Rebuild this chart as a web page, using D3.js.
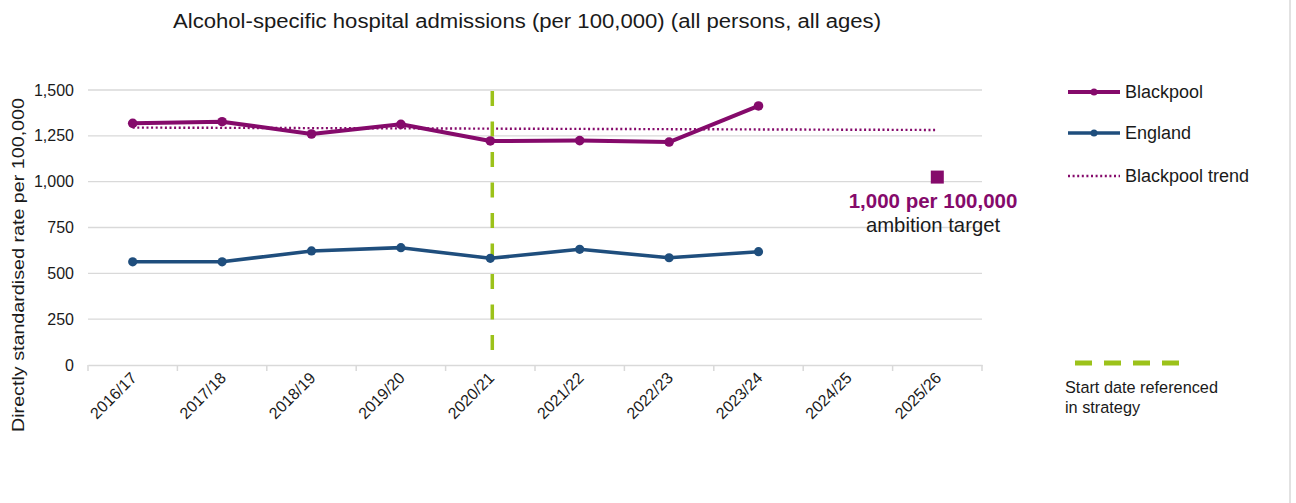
<!DOCTYPE html>
<html>
<head>
<meta charset="utf-8">
<script src="https://cdn.jsdelivr.net/npm/d3@7"></script>
<style>
  html, body { margin: 0; padding: 0; background: #fff; }
  svg { display: block; font-family: "Liberation Sans", Arial, sans-serif; }
</style>
</head>
<body>
<svg id="chart" width="1296" height="503"></svg>
<script>
const categories = ["2016/17","2017/18","2018/19","2019/20","2020/21","2021/22","2022/23","2023/24","2024/25","2025/26"];
const blackpool = [1318, 1327, 1260, 1313, 1222, 1224, 1216, 1413];
const england = [563, 563, 622, 640, 582, 631, 585, 618];
const trendCategories = ["2016/17", "2025/26"];
const trendValues = [1295, 1282];
const targetCategory = "2025/26";
const targetValue = 1025;
const startCategory = "2020/21";
const yTicks = [0, 250, 500, 750, 1000, 1250, 1500];

const purple = "#850a6b", blue = "#1f4e7d", green = "#9cc21a", grid = "#d9d9d9";
const svg = d3.select("#chart");
const x = d3.scaleBand().domain(categories).range([88, 982]);
const xc = c => x(c) + x.bandwidth() / 2;
const y = d3.scaleLinear().domain([0, 1500]).range([365, 90]);

// right frame edge
svg.append("line").attr("x1", 1290).attr("x2", 1290).attr("y1", 0).attr("y2", 503)
  .attr("stroke", grid).attr("stroke-width", 1.5);

// title
svg.append("text").attr("x", 527).attr("y", 28).attr("text-anchor", "middle")
  .attr("font-size", 20).attr("fill", "#1a1a1a")
  .attr("textLength", 708).attr("lengthAdjust", "spacingAndGlyphs")
  .text("Alcohol-specific hospital admissions (per 100,000) (all persons, all ages)");

// gridlines
svg.append("g").selectAll("line").data(yTicks.filter(d => d > 0)).join("line")
  .attr("x1", 88).attr("x2", 982).attr("y1", d => y(d)).attr("y2", d => y(d))
  .attr("stroke", grid).attr("stroke-width", 1.3);

// y axis
const yAxis = svg.append("g").attr("transform", "translate(88,0)")
  .call(d3.axisLeft(y).tickValues(yTicks).tickFormat(d3.format(",")).tickSize(0).tickPadding(14));
yAxis.select(".domain").remove();
yAxis.selectAll("text").attr("font-size", 16).attr("fill", "#1a1a1a").attr("font-family", "Liberation Sans, Arial, sans-serif");

// x axis
const xAxis = svg.append("g").attr("transform", "translate(0,365)")
  .call(d3.axisBottom(x).tickSize(0));
xAxis.select(".domain").attr("stroke", grid).attr("stroke-width", 1.5);
xAxis.selectAll(".tick text").remove();
svg.append("g").selectAll("line").data(categories.concat(["__end"])).join("line")
  .attr("x1", (d, i) => 88 + i * x.bandwidth()).attr("x2", (d, i) => 88 + i * x.bandwidth())
  .attr("y1", 365).attr("y2", 371).attr("stroke", grid).attr("stroke-width", 1.5);
svg.append("g").selectAll("text").data(categories).join("text")
  .attr("transform", d => `translate(${xc(d) + 5},${379}) rotate(-45)`)
  .attr("text-anchor", "end").attr("font-size", 16).attr("fill", "#1a1a1a")
  .text(d => d);

// y title
svg.append("text").attr("transform", "translate(24,265) rotate(-90)")
  .attr("text-anchor", "middle").attr("font-size", 17).attr("fill", "#1a1a1a")
  .attr("textLength", 334).attr("lengthAdjust", "spacingAndGlyphs")
  .text("Directly standardised rate per 100,000");

// trend
svg.append("path").datum(trendCategories.map((c, i) => [xc(c), y(trendValues[i])]))
  .attr("d", d3.line()).attr("fill", "none").attr("stroke", purple)
  .attr("stroke-width", 2.4).attr("stroke-dasharray", "2,2.6");

// start line
svg.append("line").attr("x1", xc(startCategory) + 2).attr("x2", xc(startCategory) + 2)
  .attr("y1", 91).attr("y2", 350).attr("stroke", green).attr("stroke-width", 3.5)
  .attr("stroke-dasharray", "15,15.5");

// series
function series(vals, color, w, r) {
  const pts = vals.map((v, i) => [xc(categories[i]), y(v)]);
  svg.append("path").datum(pts).attr("d", d3.line()).attr("fill", "none")
    .attr("stroke", color).attr("stroke-width", w).attr("stroke-linejoin", "round");
  svg.append("g").selectAll("circle").data(pts).join("circle")
    .attr("cx", d => d[0]).attr("cy", d => d[1]).attr("r", r).attr("fill", color);
}
series(england, blue, 3.6, 4.6);
series(blackpool, purple, 4, 4.8);

// target marker
svg.append("rect").attr("x", xc(targetCategory) - 6.5).attr("y", y(targetValue) - 6.5)
  .attr("width", 13).attr("height", 13).attr("fill", purple);
svg.append("text").attr("x", 933).attr("y", 208).attr("text-anchor", "middle")
  .attr("font-size", 20.5).attr("font-weight", "bold").attr("fill", purple)
  .text("1,000 per 100,000");
svg.append("text").attr("x", 933).attr("y", 232).attr("text-anchor", "middle")
  .attr("font-size", 20.3).attr("fill", "#1a1a1a")
  .text("ambition target");

// legend
const leg = svg.append("g");
const legItems = [
  {label: "Blackpool", color: purple, y: 92, w: 4, dash: null, marker: true},
  {label: "England", color: blue, y: 133, w: 3.6, dash: null, marker: true},
  {label: "Blackpool trend", color: purple, y: 176, w: 2.4, dash: "2,2.6", marker: false}
];
legItems.forEach(it => {
  leg.append("line").attr("x1", 1068).attr("x2", 1120).attr("y1", it.y).attr("y2", it.y)
    .attr("stroke", it.color).attr("stroke-width", it.w).attr("stroke-dasharray", it.dash);
  if (it.marker) leg.append("circle").attr("cx", 1094).attr("cy", it.y).attr("r", 3.5).attr("fill", it.color);
  leg.append("text").attr("x", 1125).attr("y", it.y + 6).attr("font-size", 18).attr("fill", "#1a1a1a").text(it.label);
});
leg.append("line").attr("x1", 1075).attr("x2", 1180).attr("y1", 363).attr("y2", 363)
  .attr("stroke", green).attr("stroke-width", 5).attr("stroke-dasharray", "17,12");
leg.append("text").attr("x", 1065).attr("y", 393).attr("font-size", 16.3).attr("fill", "#1a1a1a").text("Start date referenced");
leg.append("text").attr("x", 1065).attr("y", 413).attr("font-size", 16.3).attr("fill", "#1a1a1a").text("in strategy");
</script>
</body>
</html>
